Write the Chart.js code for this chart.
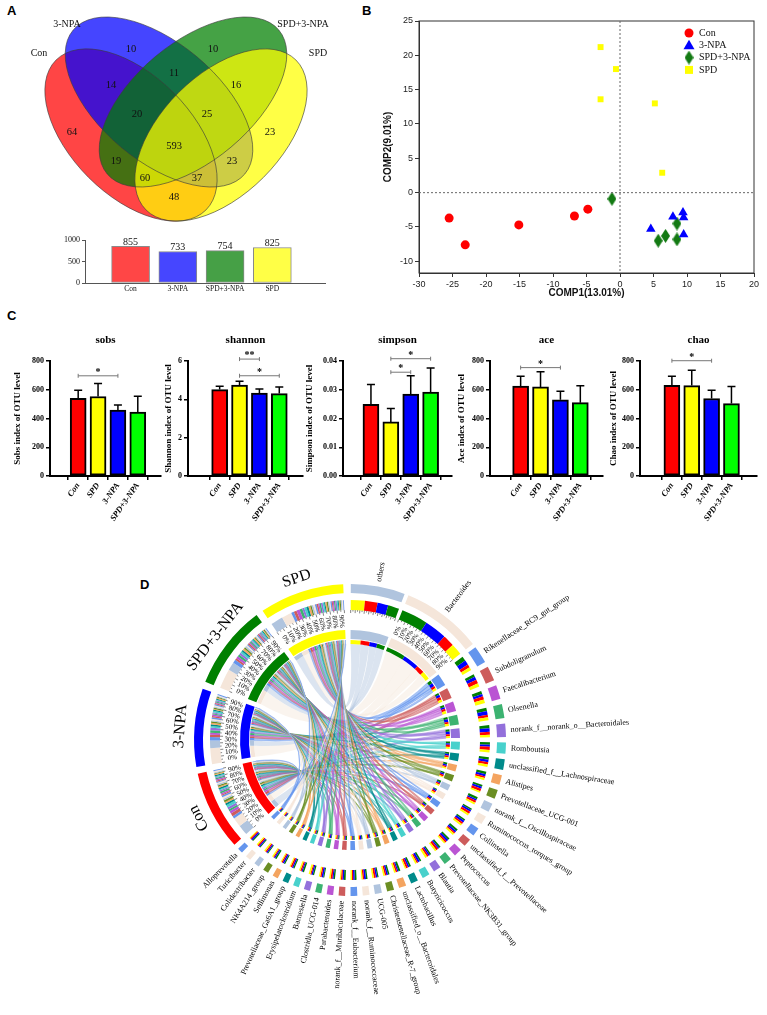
<!DOCTYPE html>
<html>
<head>
<meta charset="utf-8">
<title>Figure</title>
<script src="https://cdn.jsdelivr.net/npm/chart.js@4.4.1/dist/chart.umd.min.js"></script>
<style>
  html, body { margin: 0; padding: 0; background: #fff; }
  body { width: 767px; height: 1015px; position: relative; overflow: hidden; }
  .panel { position: absolute; }
  .tag { position: absolute; font: bold 13px "Liberation Sans", Arial, sans-serif; color: #000; }
</style>
</head>
<body>
<div class="tag" style="left:7px;top:3px">A</div>
<div class="tag" style="left:362px;top:3px">B</div>
<div class="tag" style="left:7px;top:308px">C</div>
<div class="tag" style="left:140px;top:577px">D</div>

<div class="panel" style="left:0;top:0;width:360px;height:230px"><canvas id="venn"></canvas></div>
<div class="panel" style="left:0;top:232px;width:360px;height:70px"><canvas id="vennBar"></canvas></div>
<div class="panel" style="left:380px;top:0;width:387px;height:302px"><canvas id="pca"></canvas></div>
<div class="panel" style="left:12px;top:325px;width:153px;height:205px"><canvas id="sobs"></canvas></div>
<div class="panel" style="left:163px;top:325px;width:142px;height:205px"><canvas id="shannon"></canvas></div>
<div class="panel" style="left:304px;top:325px;width:151px;height:205px"><canvas id="simpson"></canvas></div>
<div class="panel" style="left:456px;top:325px;width:150px;height:205px"><canvas id="ace"></canvas></div>
<div class="panel" style="left:608px;top:325px;width:159px;height:205px"><canvas id="chao"></canvas></div>
<div class="panel" style="left:140px;top:545px;width:627px;height:470px"><canvas id="chord"></canvas></div>

<script>
// ---------- data (A) ----------
const vennSets = ['Con', '3-NPA', 'SPD+3-NPA', 'SPD'];
const vennCounts = [10, 10, 14, 11, 16, 64, 20, 25, 593, 23, 19, 23, 60, 37, 48];
const vennTotals = [855, 733, 754, 825];

// ---------- data (B) ----------
const pcaCon = [[-25.5, -3.7], [-23.1, -7.6], [-15.1, -4.7], [-6.8, -3.4], [-4.8, -2.4]];
const pcaNPA = [[4.6, -5.3], [7.9, -3.5], [9.4, -2.9], [9.5, -3.6], [9.5, -6.1]];
const pcaSPDNPA = [[-1.2, -0.9], [5.7, -7.0], [6.8, -6.3], [8.5, -4.5], [8.5, -6.8]];
const pcaSPD = [[-2.9, 21.2], [-0.6, 18.0], [-2.9, 13.6], [5.2, 13.0], [6.3, 2.9]];

// ---------- data (C) ----------
const alphaGroups = ['Con', 'SPD', '3-NPA', 'SPD+3-NPA'];
const sobsMean = [541, 553, 459, 445], sobsTop = [597, 644, 494, 555];
const shannonMean = [4.51, 4.74, 4.33, 4.30], shannonTop = [4.68, 4.95, 4.54, 4.65];
const simpsonMean = [0.0249, 0.0188, 0.0285, 0.0292], simpsonTop = [0.0318, 0.0235, 0.0349, 0.0376];
const aceMean = [625, 620, 530, 510], aceTop = [694, 726, 590, 627];
const chaoMean = [631, 629, 539, 504], chaoTop = [694, 735, 597, 622];
// [from bar, to bar, level, mark]
const sobsSig = [[0, 2, 697, '*']];
const shannonSig = [[1, 2, 6.1, '**'], [1, 3, 5.23, '*']];
const simpsonSig = [[1, 2, 0.0361, '*'], [1, 3, 0.0408, '*']];
const aceSig = [[0, 2, 754, '*']];
const chaoSig = [[0, 2, 802, '*']];

// ---------- data (D) ----------
const chordGroups = ['Con', '3-NPA', 'SPD+3-NPA', 'SPD'];
const chordGroupSpan = [29.7, 29.2, 31.3, 31.6];
const chordGenera = ['others', 'Bacteroides', 'Rikenellaceae_RC9_gut_group', 'Subdoligranulum',
  'Faecalibacterium', 'Olsenella', 'norank_f__norank_o__Bacteroidales', 'Romboutsia',
  'unclassified_f__Lachnospiraceae', 'Alistipes', 'Prevotellaceae_UCG-001', 'norank_f__Oscillospiraceae',
  'Ruminococcus_torques_group', 'Collinsella', 'unclassified_f__Prevotellaceae', 'Peptococcus',
  'Prevotellaceae_NK3B31_group', 'Blautia', 'Butyricicoccus', 'Lactobacillus',
  'unclassified_o__Bacteroidales', 'Christensenellaceae_R-7_group', 'UCG-005', 'norank_f__Ruminococcaceae',
  'norank_f__Eubacterium', 'norank_f__Muribaculaceae', 'Parabacteroides', 'Clostridia_UCG-014',
  'Barnesiella', 'Erysipelatoclostridium', 'Prevotellaceae_Ga6A1_group', 'Sellimonas',
  'NK4A214_group', 'Colidextribacter', 'Turicibacter', 'Alloprevotella'];
const chordGenusSpan = [20.2, 30, 6.5, 5.5, 5.2, 5.2, 5, 4.2, 4, 3.6, 3.4, 3.3, 3.2, 3.1, 3.0, 3.0,
  2.9, 2.8, 2.8, 2.7, 2.7, 2.6, 2.6, 2.5, 2.5, 2.4, 2.4, 2.3, 2.3, 2.2, 2.2, 2.1, 2.1, 2.0, 2.0, 2.0];
// share of each genus per group: Con, 3-NPA, SPD+3-NPA, SPD
const chordShare = [
  [26, 22, 23, 29], [16, 31, 37, 16], [20, 30, 30, 20], [30, 25, 20, 25], [25, 20, 25, 30],
  [20, 30, 25, 25], [25, 30, 25, 20], [30, 20, 25, 25], [25, 25, 25, 25], [20, 25, 30, 25],
  [30, 25, 25, 20], [25, 20, 30, 25], [30, 25, 20, 25], [25, 30, 20, 25], [20, 25, 30, 25],
  [25, 30, 25, 20], [30, 20, 25, 25], [25, 25, 20, 30], [20, 30, 25, 25], [30, 25, 25, 20],
  [25, 20, 30, 25], [25, 25, 25, 25], [30, 25, 20, 25], [25, 30, 25, 20], [20, 25, 30, 25],
  [25, 25, 30, 20], [30, 20, 25, 25], [25, 30, 20, 25], [20, 25, 25, 30], [25, 20, 30, 25],
  [30, 25, 25, 20], [25, 30, 25, 20], [20, 25, 30, 25], [25, 25, 20, 30], [30, 25, 20, 25],
  [25, 30, 25, 20]];
const chordPercentTicks = ['0%', '10%', '20%', '30%', '40%', '50%', '60%', '70%', '80%', '90%'];

// ---------- common ----------
const SERIF = '"Liberation Serif", "Times New Roman", serif';
const SANS = '"Liberation Sans", Arial, sans-serif';
Chart.defaults.animation = false;
Chart.defaults.events = [];
Chart.defaults.responsive = true;
Chart.defaults.maintainAspectRatio = false;
Chart.defaults.color = '#000';
Chart.defaults.plugins.legend.display = false;
Chart.defaults.plugins.tooltip.enabled = false;

function rgba(hex, a) {
  const n = parseInt(hex.slice(1), 16);
  return `rgba(${n >> 16},${(n >> 8) & 255},${n & 255},${a})`;
}

// ---------- A : venn ----------
const vennShapes = [
  { cx: 131, cy: 135, a: 106, b: 60, rot: 45, color: 'rgba(255,0,0,0.73)' },
  { cx: 159, cy: 102, a: 112, b: 59, rot: 40, color: 'rgba(0,0,255,0.73)' },
  { cx: 193, cy: 102, a: 112, b: 59, rot: -40, color: 'rgba(0,128,0,0.73)' },
  { cx: 221, cy: 135, a: 106, b: 60, rot: -45, color: 'rgba(255,255,0,0.73)' }
];
const vennCountPos = [[131, 49], [213, 49], [111, 85], [174, 73], [236, 85], [72, 132], [137, 114],
  [207, 114], [174, 146], [270, 132], [116, 161], [232, 161], [145, 178], [197, 178], [174, 197]];
const vennNamePos = [[39, 53], [67, 24], [303, 24], [318, 53]];

const vennDraw = {
  id: 'vennDraw',
  beforeDatasetsDraw(chart) {
    const { ctx, scales: { x, y } } = chart;
    const k = x.getPixelForValue(1) - x.getPixelForValue(0);
    const path = e => {
      ctx.beginPath();
      ctx.ellipse(x.getPixelForValue(e.cx), y.getPixelForValue(e.cy), e.a * k, e.b * k, e.rot * Math.PI / 180, 0, Math.PI * 2);
    };
    ctx.save();
    vennShapes.forEach(e => { path(e); ctx.fillStyle = e.color; ctx.fill(); });
    ctx.strokeStyle = 'rgba(60,60,60,0.8)';
    ctx.lineWidth = 0.8;
    vennShapes.forEach(e => { path(e); ctx.stroke(); });
    ctx.restore();
  },
  afterDatasetsDraw(chart) {
    const { ctx, scales: { x, y } } = chart;
    ctx.save();
    ctx.fillStyle = '#111';
    ctx.textAlign = 'center';
    ctx.textBaseline = 'middle';
    ctx.font = `10.5px ${SERIF}`;
    chart.getDatasetMeta(0).data.forEach((p, i) => ctx.fillText(vennCounts[i], p.x, p.y));
    ctx.font = `10px ${SERIF}`;
    vennSets.forEach((s, i) => ctx.fillText(s, x.getPixelForValue(vennNamePos[i][0]), y.getPixelForValue(vennNamePos[i][1])));
    ctx.restore();
  }
};

new Chart(document.getElementById('venn'), {
  type: 'scatter',
  data: { datasets: [{ data: vennCountPos.map(p => ({ x: p[0], y: p[1] })), pointRadius: 0 }] },
  options: {
    layout: { padding: 0 },
    scales: {
      x: { display: false, min: 0, max: 360 },
      y: { display: false, min: 0, max: 230, reverse: true }
    }
  },
  plugins: [vennDraw]
});

const barValues = {
  id: 'barValues',
  afterDatasetsDraw(chart) {
    const ctx = chart.ctx;
    ctx.save();
    ctx.fillStyle = '#111';
    ctx.textAlign = 'center';
    ctx.textBaseline = 'bottom';
    ctx.font = `10px ${SERIF}`;
    chart.getDatasetMeta(0).data.forEach((b, i) => ctx.fillText(vennTotals[i], b.x, b.y + 1));
    ctx.restore();
  }
};

new Chart(document.getElementById('vennBar'), {
  type: 'bar',
  data: {
    datasets: [{
      data: vennTotals.map((v, i) => ({ x: i, y: v })),
      backgroundColor: ['#FF4646', '#4646FF', '#46A046', '#FFFF46'],
      borderColor: '#8a8a8a', borderWidth: 1, borderSkipped: false, barThickness: 38
    }]
  },
  options: {
    layout: { padding: { top: 8, right: 35 } },
    scales: {
      x: {
        type: 'linear', min: -0.33, max: 3.48,
        afterBuildTicks: s => { s.ticks = vennSets.map((n, i) => ({ value: i })); },
        afterFit: s => { s.height = 19; },
        ticks: { callback: v => vennSets[v], maxRotation: 0, padding: 2, color: '#111', font: { family: SERIF, size: 7.5 } },
        grid: { drawOnChartArea: false, drawTicks: false },
        border: { color: '#555', width: 1 }
      },
      y: {
        min: 0, max: 1000,
        afterFit: s => { s.width = 85; },
        ticks: { stepSize: 500, callback: v => String(v), padding: 2, color: '#111', font: { family: SERIF, size: 8 } },
        grid: { drawOnChartArea: false, tickLength: 3, color: '#555' },
        border: { color: '#555', width: 1 }
      }
    }
  },
  plugins: [barValues]
});

// ---------- B : PCA ----------
const diamond = document.createElement('canvas');
diamond.width = 9; diamond.height = 14;
(() => {
  const d = diamond.getContext('2d');
  d.fillStyle = '#137a13';
  d.beginPath(); d.moveTo(4.5, 0); d.lineTo(9, 7); d.lineTo(4.5, 14); d.lineTo(0, 7); d.closePath(); d.fill();
})();

const pcaDeco = {
  id: 'pcaDeco',
  afterDraw(chart) {
    const { ctx, chartArea: a, scales: { x, y } } = chart;
    ctx.save();
    ctx.strokeStyle = '#333'; ctx.lineWidth = 1;
    ctx.strokeRect(a.left, a.top, a.right - a.left, a.bottom - a.top);
    ctx.setLineDash([2, 2]);
    ctx.strokeStyle = '#666';
    const x0 = x.getPixelForValue(0), y0 = y.getPixelForValue(0);
    ctx.beginPath(); ctx.moveTo(x0, a.top); ctx.lineTo(x0, a.bottom); ctx.moveTo(a.left, y0); ctx.lineTo(a.right, y0); ctx.stroke();
    ctx.setLineDash([]);
    // legend
    const lx = a.left + 270, ly = a.top + 12, step = 12.3;
    chart.data.datasets.forEach((ds, i) => {
      const cy = ly + i * step;
      ctx.fillStyle = ds.backgroundColor;
      ctx.beginPath();
      if (ds.pointStyle === 'circle') ctx.arc(lx, cy, 4.5, 0, Math.PI * 2);
      else if (ds.pointStyle === 'triangle') { ctx.moveTo(lx, cy - 5.5); ctx.lineTo(lx + 5.5, cy + 4); ctx.lineTo(lx - 5.5, cy + 4); }
      else if (ds.pointStyle === 'rect') ctx.rect(lx - 4, cy - 4, 8, 8);
      ctx.fill();
      if (ds.pointStyle === diamond) ctx.drawImage(diamond, lx - 4.5, cy - 7);
      ctx.fillStyle = '#111';
      ctx.font = `10px ${SERIF}`;
      ctx.textBaseline = 'middle';
      ctx.fillText(ds.label, lx + 10, cy);
    });
    ctx.restore();
  }
};

const toXY = p => ({ x: p[0], y: p[1] });
new Chart(document.getElementById('pca'), {
  type: 'scatter',
  data: {
    datasets: [
      { label: 'Con', data: pcaCon.map(toXY), pointStyle: 'circle', pointRadius: 4.5, backgroundColor: '#FF0000', borderWidth: 0 },
      { label: '3-NPA', data: pcaNPA.map(toXY), pointStyle: 'triangle', pointRadius: 5.5, backgroundColor: '#0000FF', borderWidth: 0 },
      { label: 'SPD+3-NPA', data: pcaSPDNPA.map(toXY), pointStyle: diamond, pointRadius: 5, backgroundColor: '#137a13', borderWidth: 0 },
      { label: 'SPD', data: pcaSPD.map(toXY), pointStyle: 'rect', pointRadius: 4.2, backgroundColor: '#FFFF00', borderWidth: 0 }
    ]
  },
  options: {
    layout: { padding: { top: 21, right: 13 } },
    scales: {
      x: {
        type: 'linear', min: -30, max: 20,
        afterFit: s => { s.height = 29; },
        ticks: { stepSize: 5, padding: 2, color: '#222', font: { family: SANS, size: 9 } },
        grid: { drawOnChartArea: false, tickLength: 4, color: '#333' },
        border: { color: '#333' },
        title: { display: true, text: 'COMP1(13.01%)', color: '#111', padding: { top: 0, bottom: 3 }, font: { family: SANS, size: 10, weight: 'bold' } }
      },
      y: {
        type: 'linear', min: -11.7, max: 25,
        afterBuildTicks: s => { s.ticks = [-10, -5, 0, 5, 10, 15, 20, 25].map(v => ({ value: v })); },
        afterFit: s => { s.width = 39; },
        ticks: { padding: 2, color: '#222', font: { family: SANS, size: 9 } },
        grid: { drawOnChartArea: false, tickLength: 4, color: '#333' },
        border: { color: '#333' },
        title: { display: true, text: 'COMP2(9.01%)', color: '#111', padding: { top: 2, bottom: 0 }, font: { family: SANS, size: 10, weight: 'bold' } }
      }
    }
  },
  plugins: [pcaDeco]
});

// ---------- C : alpha diversity ----------
const alphaColors = ['#FF0000', '#FFFF00', '#0000FF', '#00FF00'];

const alphaDeco = {
  id: 'alphaDeco',
  afterDraw(chart, args, opts) {
    const { ctx, chartArea: a, scales: { y } } = chart;
    const bars = chart.getDatasetMeta(0).data;
    ctx.save();
    ctx.strokeStyle = '#000'; ctx.lineWidth = 1.5;
    bars.forEach((b, i) => {
      const yt = y.getPixelForValue(opts.top[i]);
      ctx.beginPath();
      ctx.moveTo(b.x, b.y); ctx.lineTo(b.x, yt);
      ctx.moveTo(b.x - 4, yt); ctx.lineTo(b.x + 4, yt);
      ctx.stroke();
    });
    ctx.strokeStyle = '#777'; ctx.lineWidth = 1;
    ctx.fillStyle = '#000'; ctx.textAlign = 'center';
    ctx.font = `bold 10px ${SERIF}`;
    opts.sig.forEach(([i, j, v, t]) => {
      const x1 = bars[i].x, x2 = bars[j].x, yy = y.getPixelForValue(v);
      ctx.beginPath();
      ctx.moveTo(x1, yy); ctx.lineTo(x2, yy);
      ctx.moveTo(x1, yy - 2); ctx.lineTo(x1, yy + 2);
      ctx.moveTo(x2, yy - 2); ctx.lineTo(x2, yy + 2);
      ctx.stroke();
      ctx.fillText(t, (x1 + x2) / 2, yy - 1);
    });
    ctx.font = `bold 11px ${SERIF}`;
    ctx.fillText(opts.title, (a.left + a.right) / 2, a.top - 18);
    ctx.restore();
  }
};

function alphaChart(id, cfg) {
  return new Chart(document.getElementById(id), {
    type: 'bar',
    data: {
      datasets: [{
        data: cfg.mean.map((v, i) => ({ x: i, y: v })),
        backgroundColor: alphaColors, borderColor: '#000', borderWidth: 2, borderSkipped: false, barThickness: 16
      }]
    },
    options: {
      layout: { padding: { top: 36, right: cfg.padRight } },
      scales: {
        x: {
          type: 'linear', min: cfg.xMin, max: cfg.xMax,
          afterBuildTicks: s => { s.ticks = alphaGroups.map((g, i) => ({ value: i })); },
          afterFit: s => { s.height = 54; },
          ticks: { callback: v => alphaGroups[v], autoSkip: false, minRotation: 55, maxRotation: 55, padding: 1, color: '#000',
            font: { family: SERIF, size: 8.5, weight: 'bold', style: 'italic' } },
          grid: { drawOnChartArea: false, tickLength: 4, color: '#000', lineWidth: 1.5 },
          border: { color: '#000', width: 2 }
        },
        y: {
          min: 0, max: cfg.yMax,
          afterFit: s => { s.width = cfg.axisW; },
          ticks: { stepSize: cfg.yStep, callback: cfg.fmt, padding: 2, color: '#000', font: { family: SERIF, size: 8, weight: 'bold' } },
          grid: { drawOnChartArea: false, tickLength: 4, color: '#000', lineWidth: 1.5 },
          border: { color: '#000', width: 2 },
          title: { display: true, text: cfg.yTitle, color: '#000', padding: { top: 0, bottom: 0 }, font: { family: SERIF, size: 9, weight: 'bold' } }
        }
      },
      plugins: { alphaDeco: { title: cfg.title, top: cfg.top, sig: cfg.sig } }
    },
    plugins: [alphaDeco]
  });
}

const intFmt = v => String(Math.round(v));
alphaChart('sobs', { title: 'sobs', yTitle: 'Sobs index of OTU level', mean: sobsMean, top: sobsTop, sig: sobsSig,
  yMax: 800, yStep: 200, fmt: intFmt, axisW: 38, padRight: 4, xMin: -0.72, xMax: 3.47 });
alphaChart('shannon', { title: 'shannon', yTitle: 'Shannon index of OTU level', mean: shannonMean, top: shannonTop, sig: shannonSig,
  yMax: 6, yStep: 2, fmt: intFmt, axisW: 25, padRight: 2, xMin: -0.87, xMax: 3.47 });
alphaChart('simpson', { title: 'simpson', yTitle: 'Simpson index of OTU level', mean: simpsonMean, top: simpsonTop, sig: simpsonSig,
  yMax: 0.04, yStep: 0.01, fmt: v => v.toFixed(2), axisW: 39, padRight: 3, xMin: -0.72, xMax: 3.39 });
alphaChart('ace', { title: 'ace', yTitle: 'Ace index of OTU level', mean: aceMean, top: aceTop, sig: aceSig,
  yMax: 800, yStep: 200, fmt: intFmt, axisW: 34, padRight: 3, xMin: -0.83, xMax: 3.43 });
alphaChart('chao', { title: 'chao', yTitle: 'Chao index of OTU level', mean: chaoMean, top: chaoTop, sig: chaoSig,
  yMax: 800, yStep: 200, fmt: intFmt, axisW: 32, padRight: 10, xMin: -0.87, xMax: 3.55 });

// ---------- D : chord diagram ----------
const CLEAR = 'rgba(0,0,0,0)';
const chordGroupColors = ['#FF0000', '#0000FF', '#008000', '#FFFF00'];
const chordPalette = ['#B0C4DE', '#F5E6DA', '#6495ED', '#CD5C5C', '#BA55D3', '#3CB371', '#9370DB',
  '#48D1CC', '#008B8B', '#F4A460', '#6B8E23'];
const genusColor = g => chordPalette[g % chordPalette.length];

// ring layout (degrees): genera then groups, gaps between sectors
const sectors = [];
chordGenera.forEach((n, g) => sectors.push({ kind: 'genus', i: g, name: n, span: chordGenusSpan[g], color: genusColor(g), gap: g < 2 ? 1.5 : 2.0 }));
chordGroups.forEach((n, k) => sectors.push({ kind: 'group', i: k, name: n, span: chordGroupSpan[k], color: chordGroupColors[k], gap: [2.5, 2.7, 2.7, 0][k] }));
sectors[sectors.length - 1].gap = 360 - sectors.reduce((s, e) => s + e.span + e.gap, 0);

const contrib = chordShare.map((sh, g) => {
  const t = sh.reduce((a, b) => a + b, 0);
  return sh.map(v => chordGenusSpan[g] * v / t);
});
const groupTotals = chordGroups.map((n, k) => contrib.reduce((s, c) => s + c[k], 0));
const groupOrder = [[0, 1], [1, 0], [1, 0], [0, 1]];

const ringSpans = [], ringColors = [], compSpans = [], compColors = [];
const genusPiece = chordGenera.map(() => []), groupPiece = chordGroups.map(() => []);
sectors.forEach(e => {
  ringSpans.push(e.span, e.gap);
  ringColors.push(e.color, CLEAR);
  if (e.kind === 'genus') {
    const order = e.i === 0 ? [3, 0, 1, 2] : [2, 1, 0, 3];
    order.forEach(k => {
      genusPiece[e.i][k] = compSpans.length;
      compSpans.push(contrib[e.i][k]);
      compColors.push(chordGroupColors[k]);
    });
  } else {
    const k = e.i;
    const order = groupOrder[k].concat(chordGenera.map((n, g) => g).slice(2));
    order.forEach(g => {
      groupPiece[k][g] = compSpans.length;
      compSpans.push(chordGroupSpan[k] * contrib[g][k] / groupTotals[k]);
      compColors.push(genusColor(g));
    });
  }
  compSpans.push(e.gap);
  compColors.push(CLEAR);
});

const chordDeco = {
  id: 'chordDeco',
  beforeDatasetsDraw(chart) {
    const ctx = chart.ctx;
    const inner = chart.getDatasetMeta(6).data;
    const r = inner[0].innerRadius, cx = inner[0].x, cy = inner[0].y;
    const pt = t => [cx + r * Math.cos(t), cy + r * Math.sin(t)];
    // control point pulled from the centre toward the two ends
    const ctl = (t1, t2) => {
      const m = (t1 + t2) / 2, d = Math.abs(Math.cos((t2 - t1) / 2));
      return [cx + 0.3 * r * d * Math.cos(m), cy + 0.3 * r * d * Math.sin(m)];
    };
    ctx.save();
    chordGenera.forEach((n, g) => {
      chordGroups.forEach((m, k) => {
        const a = inner[genusPiece[g][k]], b = inner[groupPiece[k][g]];
        ctx.beginPath();
        ctx.arc(cx, cy, r, a.startAngle, a.endAngle);
        ctx.quadraticCurveTo(...ctl(a.endAngle, b.startAngle), ...pt(b.startAngle));
        ctx.arc(cx, cy, r, b.startAngle, b.endAngle);
        ctx.quadraticCurveTo(...ctl(b.endAngle, a.startAngle), ...pt(a.startAngle));
        ctx.closePath();
        ctx.fillStyle = rgba(genusColor(g), g < 2 ? 0.45 : 0.55);
        ctx.fill();
        if (g >= 2) {
          ctx.strokeStyle = rgba(genusColor(g), 0.7);
          ctx.lineWidth = 0.6;
          ctx.stroke();
        }
      });
    });
    ctx.restore();
  },
  afterDraw(chart) {
    const ctx = chart.ctx;
    const outer = chart.getDatasetMeta(0).data;
    const r2in = chart.getDatasetMeta(2).data[0].innerRadius;
    const cx = outer[0].x, cy = outer[0].y, rOut = outer[0].outerRadius;
    const deg = Math.PI / 180;
    ctx.save();
    ctx.fillStyle = '#000';
    ctx.strokeStyle = '#333';
    sectors.forEach((e, idx) => {
      const el = outer[idx * 2];
      const s = el.startAngle, t = el.endAngle, mid = (s + t) / 2;
      const fromTop = (((mid + Math.PI / 2) / deg) % 360 + 360) % 360;
      // percentage axis on the big sectors
      if (e.kind === 'group' || e.i < 2) {
        ctx.lineWidth = 0.6;
        for (let j = 0; j <= 20; j++) {
          const a = s + (t - s) * j / 20;
          const len = j % 2 ? 1.5 : 3;
          ctx.beginPath();
          ctx.moveTo(cx + r2in * Math.cos(a), cy + r2in * Math.sin(a));
          ctx.lineTo(cx + (r2in - len) * Math.cos(a), cy + (r2in - len) * Math.sin(a));
          ctx.stroke();
        }
      }
      if (e.kind === 'group' || e.i === 1) {
        ctx.font = `7px ${SERIF}`;
        ctx.textAlign = 'center';
        ctx.textBaseline = 'middle';
        chordPercentTicks.forEach((lab, j) => {
          const a = s + (t - s) * (j + 0.5) / chordPercentTicks.length;
          ctx.save();
          ctx.translate(cx + 119 * Math.cos(a), cy + 119 * Math.sin(a));
          ctx.rotate(fromTop < 180 ? a : a + Math.PI);
          ctx.fillText(lab, 0, 0);
          ctx.restore();
        });
      }
      // names
      ctx.save();
      if (e.kind === 'group') {
        const rl = rOut + 6;
        ctx.translate(cx + rl * Math.cos(mid), cy + rl * Math.sin(mid));
        ctx.rotate(mid + Math.PI / 2);
        ctx.font = `16px ${SERIF}`;
        ctx.textAlign = 'center';
        ctx.textBaseline = 'bottom';
        ctx.fillText(e.name, 0, 0);
      } else {
        const rl = rOut + 5;
        ctx.translate(cx, cy);
        ctx.font = `8px ${SERIF}`;
        ctx.textBaseline = 'middle';
        if (fromTop < 180) {
          ctx.rotate(mid);
          ctx.textAlign = 'left';
          ctx.fillText(e.name, rl, 0);
        } else {
          ctx.rotate(mid + Math.PI);
          ctx.textAlign = 'right';
          ctx.fillText(e.name, -rl, 0);
        }
      }
      ctx.restore();
    });
    ctx.restore();
  }
};

const ring = (data, colors, weight) => ({ data, backgroundColor: colors, weight, borderWidth: 0, hoverOffset: 0, hoverBorderWidth: 0 });
new Chart(document.getElementById('chord'), {
  type: 'doughnut',
  data: {
    datasets: [
      ring(ringSpans, ringColors, 9),
      ring([360], [CLEAR], 7),
      ring(compSpans, compColors, 10),
      ring([360], [CLEAR], 20),
      ring(ringSpans, ringColors, 9),
      ring([360], [CLEAR], 1),
      ring(compSpans, compColors, 4)
    ]
  },
  options: {
    rotation: 0.3,
    cutout: 96,
    spacing: 0,
    layout: { padding: { left: 54, top: 39, right: 261, bottom: 119 } }
  },
  plugins: [chordDeco]
});
</script>
</body>
</html>
